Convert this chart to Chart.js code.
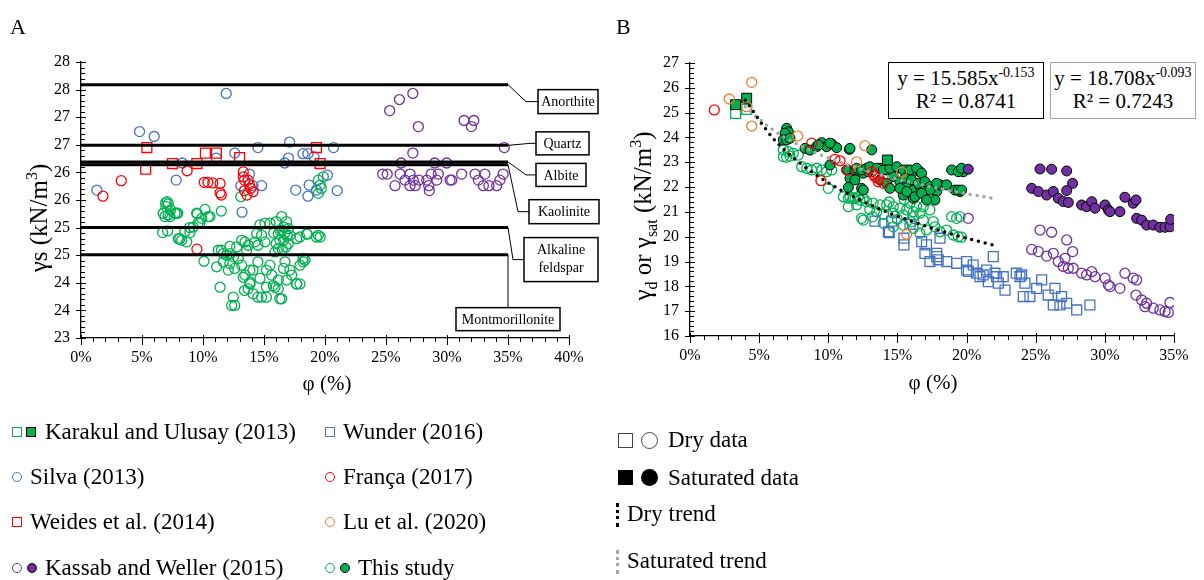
<!DOCTYPE html>
<html>
<head>
<meta charset="utf-8">
<script src="https://cdn.jsdelivr.net/npm/chart.js@4.4.0/dist/chart.umd.min.js"></script>
<style>
body{margin:0;background:#fff;width:1204px;height:580px;position:relative;overflow:hidden;font-family:'Liberation Serif','Times New Roman',serif;color:#000}
canvas{position:absolute;top:0}
.t{position:absolute;white-space:nowrap}
.lg{position:absolute;white-space:nowrap;font-size:23px;line-height:26px}
.rot{position:absolute;white-space:nowrap;font-size:25px;transform:translate(-50%,-50%) rotate(-90deg)}
.mk{position:absolute;box-sizing:border-box}
.eq{position:absolute;box-sizing:border-box;background:#fff;text-align:center;font-size:21px;line-height:23px;padding-top:4px}
.eq sup{font-size:14px;line-height:0}
</style>
</head>
<body>
<canvas id="chartA" width="610" height="400" style="left:0"></canvas>
<canvas id="chartB" width="604" height="400" style="left:600px"></canvas>

<div class="t" style="left:10px;top:14px;font-size:22px">A</div>
<div class="t" style="left:616px;top:14px;font-size:22px">B</div>
<div class="rot" style="left:38px;top:218px">γs (kN/m<sup style="font-size:16px">3</sup>)</div>
<div class="t" style="left:327px;top:383px;font-size:21px;transform:translate(-50%,-50%)">φ (%)</div>
<div class="rot" style="left:644px;top:216px">γ<sub style="font-size:16px">d</sub> or γ<sub style="font-size:16px">sat</sub> (kN/m<sup style="font-size:16px">3</sup>)</div>
<div class="t" style="left:933px;top:382px;font-size:21px;transform:translate(-50%,-50%)">φ (%)</div>

<div class="eq" style="left:888px;top:62px;width:156px;height:57px;border:1.5px solid #000">y = 15.585x<sup>-0.153</sup><br>R² = 0.8741</div>
<div class="eq" style="left:1050px;top:62px;width:146px;height:57px;border:1.5px solid #a6a6a6">y = 18.708x<sup>-0.093</sup><br>R² = 0.7243</div>

<!-- left legend -->
<span class="mk" style="left:12px;top:427px;width:10px;height:10px;border:1px solid #00b050"></span>
<span class="mk" style="left:26px;top:427px;width:10px;height:10px;border:1px solid #000;background:#00b050"></span>
<div class="lg" style="left:45px;top:419px">Karakul and Ulusay (2013)</div>
<span class="mk" style="left:12px;top:472px;width:10px;height:10px;border:1px solid #4472c4;border-radius:50%"></span>
<div class="lg" style="left:30px;top:464px">Silva (2013)</div>
<span class="mk" style="left:12px;top:517px;width:10px;height:10px;border:1px solid #ff0000"></span>
<div class="lg" style="left:30px;top:509px">Weides et al. (2014)</div>
<span class="mk" style="left:12px;top:563px;width:10px;height:10px;border:1px solid #7030a0;border-radius:50%"></span>
<span class="mk" style="left:27px;top:563px;width:10px;height:10px;border:1px solid #000;background:#7030a0;border-radius:50%"></span>
<div class="lg" style="left:45px;top:555px">Kassab and Weller (2015)</div>

<span class="mk" style="left:325px;top:427px;width:10px;height:10px;border:1px solid #4472c4"></span>
<div class="lg" style="left:343px;top:419px">Wunder (2016)</div>
<span class="mk" style="left:325px;top:472px;width:10px;height:10px;border:1px solid #ff0000;border-radius:50%"></span>
<div class="lg" style="left:343px;top:464px">França (2017)</div>
<span class="mk" style="left:325px;top:517px;width:10px;height:10px;border:1px solid #ed7d31;border-radius:50%"></span>
<div class="lg" style="left:343px;top:509px">Lu et al. (2020)</div>
<span class="mk" style="left:325px;top:563px;width:10px;height:10px;border:1px solid #00b050;border-radius:50%"></span>
<span class="mk" style="left:340px;top:563px;width:10px;height:10px;border:1px solid #000;background:#00b050;border-radius:50%"></span>
<div class="lg" style="left:358px;top:555px">This study</div>

<!-- right legend -->
<span class="mk" style="left:618px;top:433px;width:15px;height:15px;border:1px solid #444"></span>
<span class="mk" style="left:641px;top:432px;width:17px;height:17px;border:1px solid #444;border-radius:50%"></span>
<div class="lg" style="left:668px;top:427px">Dry data</div>
<span class="mk" style="left:618px;top:470px;width:15px;height:15px;background:#000"></span>
<span class="mk" style="left:641px;top:469px;width:17px;height:17px;background:#000;border-radius:50%"></span>
<div class="lg" style="left:668px;top:465px">Saturated data</div>
<span class="mk" style="left:616px;top:503px;width:3px;height:24px;border-left:3px dotted #000"></span>
<div class="lg" style="left:627px;top:501px">Dry trend</div>
<span class="mk" style="left:616px;top:550px;width:3px;height:24px;border-left:3px dotted #a6a6a6"></span>
<div class="lg" style="left:627px;top:548px">Saturated trend</div>

<script>
var serif = "'Liberation Serif', 'Times New Roman', serif"

// ---------- chart A data ----------
var xTicksA = ['0%','5%','10%','15%','20%','25%','30%','35%','40%']
var yTicksA = ['23','24','24','25','25','26','26','27','27','28','28']
var mineralNames = ['Anorthite','Quartz','Albite','Kaolinite','Alkaline feldspar','Montmorillonite']
var mineralValues = [27.59, 26.49, 26.19, 26.14, 25.0, 24.51]
var mineralEnd = 35

var silvaA = [[1.3,25.68],[4.8,26.74],[6.0,26.65],[7.8,25.86],[8.3,26.17],[11.1,26.26],[11.9,27.43],[12.6,26.35],[13.1,25.76],[13.2,25.28],[13.8,25.97],[14.1,25.76],[14.5,26.45],[14.8,25.76],[16.7,26.17],[17.0,26.26],[17.1,26.55],[17.6,25.68],[18.2,26.34],[18.6,26.34],[18.6,25.57],[18.7,25.77],[19.1,26.28],[19.3,25.68],[20.2,25.95],[20.7,26.45],[21.0,25.67]]
var weidesA = [[5.4,26.45],[5.3,26.06],[7.5,26.16],[9.5,26.16],[10.2,26.35],[11.1,26.35],[13.0,26.27],[19.3,26.45],[19.6,26.16]]
var francaA = [[1.8,25.57],[3.3,25.85],[8.7,26.03],[10.1,25.82],[10.4,25.82],[10.8,25.81],[11.4,25.8],[11.4,25.63],[11.5,25.59],[9.5,24.61],[13.3,26.01],[13.3,25.92],[13.4,25.86],[13.7,25.86],[13.9,25.71],[13.6,25.59],[13.4,25.67],[14.1,25.65],[13.8,25.78]]
var kassabA = [[25.3,27.12],[26.1,27.32],[27.2,27.43],[27.65,26.83],[31.4,26.94],[32.2,26.94],[32.0,26.83],[34.7,26.45],[27.2,26.35],[26.24,26.17],[28.99,26.17],[29.97,26.17],
  [24.73,25.97],[25.1,25.97],[26.15,25.97],[26.97,25.97],[28.7,25.97],[29.29,25.97],[31.2,25.97],[32.3,25.97],[33.1,25.97],[34.6,25.97],
  [26.56,25.86],[27.24,25.86],[27.7,25.86],[28.34,25.86],[29.16,25.86],[30.25,25.86],[30.39,25.86],[32.57,25.86],[34.34,25.86],
  [25.74,25.76],[26.97,25.76],[27.4,25.76],[28.5,25.76],[32.98,25.76],[33.44,25.76],[34.07,25.76],[28.55,25.67]]
var studyA = [[6.94,25.45],[7.15,25.43],[6.74,25.26],[7.35,25.32],[7.93,25.26],[6.69,24.91],[7.1,24.94],[7.97,24.8],[8.25,24.77],[8.66,24.74],[8.93,24.91],[9.2,25.01],[9.61,25.09],[9.48,25.26],[10.16,25.33],[10.57,25.2],[10.08,24.39],[11.5,25.3],[11.5,24.59],[12.2,24.53],[11.4,23.92],[12.48,23.74],[12.35,23.59],[12.6,23.59],[13.3,24.1],[13.4,23.86],[13.7,23.89],[14.1,23.8],[13.85,23.98],[14.5,23.74],[15.2,23.74],[15.9,23.92],[16.45,23.71],[16.85,24.05],[17.67,23.98],
  [7.07,25.47],[6.96,25.38],[7.15,25.23],[6.88,25.2],[7.3,25.2],[7.84,25.26],[9.89,25.17],[10.43,25.2],[9.74,25.08],[13.1,25.56],
  [9.53,25.25],[7.7,25.26],[8.9,25.0],[8.5,24.92],[8.1,24.8],[11.25,24.59],[12.2,24.66],[11.94,24.5],[12.5,24.47],[12.9,24.44],[13.44,24.74],[13.58,24.59],[11.12,24.29],[11.66,24.38],[12.2,24.35],[12.6,24.26],[12.07,24.23],[13.17,24.32],[13.44,24.14],[13.85,24.23],[13.85,24.01],[14.5,24.38],[14.1,24.23],[14.67,24.08],[14.8,23.74],[15.2,23.92],[15.2,24.23],[15.49,24.32],[15.63,24.14],[15.76,23.95],[16.17,23.89],[16.3,23.71],[16.17,24.05],[16.6,24.26],[16.72,24.38],[17.13,24.23],[17.27,24.14],[17.68,23.98],[17.95,24.32],[18.36,24.41],
  [14.67,25.05],[15.08,25.08],[15.49,25.08],[16.0,25.11],[16.45,25.2],[16.85,25.11],[17.0,24.98],[16.6,25.01],[16.17,24.89],[16.3,24.77],[16.6,24.77],[16.0,24.71],[16.17,24.62],[15.9,24.56],[14.4,24.89],[14.8,24.86],[15.08,24.74],[14.26,24.74],[13.17,24.77],[12.76,24.65],[13.71,24.68],[17.13,24.86],[17.68,24.8],[18.55,24.88],[19.3,24.83],[18.2,24.38],[11.66,24.53],[14.5,24.68],[17.0,24.71],
  [16.45,24.95],[16.7,24.9],[16.9,24.85],[16.3,24.95],[15.8,24.9],[16.5,24.6],[16.8,24.65],
  [19.45,25.86],[19.6,25.77],[19.7,25.71],[19.45,25.62],[19.86,25.92],[17.95,24.83],[18.5,24.89],[19.45,24.86],[19.6,24.83],[18.2,24.44],[17.95,23.98]]

// ---------- chart B data ----------
var xTicksB = ['0%','5%','10%','15%','20%','25%','30%','35%']
var karakulDryB = [[3.3,24.97],[4.1,25.13]]
var karakulSatB = [[3.3,25.32],[4.1,25.58],[14.27,23.09]]
var luB = [[4.46,26.22],[2.84,25.55],[4.46,24.46],[7.79,24.06],[12.65,23.67],[12.05,23.02],[15.3,22.6],[15.67,20.1],[4.1,25.24]]
var francaB = [[1.76,25.11],[8.8,23.77],[10.48,23.12],[10.85,23.06],[9.47,22.26],[11.45,22.69],[13.14,22.62],[13.38,22.42],[13.62,22.22],[13.98,22.15],[13.3,22.5],[13.6,22.35]]
var wunderB = [[13.38,20.63],[14.58,20.63],[14.41,20.16],[15.47,19.94],[15.47,19.67],[15.91,20.5],[16.75,19.8],[16.99,19.33],[17.35,19.0],[17.84,19.2],[18.56,19.0],[18.08,19.94],[19.28,18.93],[20.0,19.0],[20.0,18.66],[20.48,18.86],[20.73,18.53],[21.2,18.46],[21.93,19.2],[22.17,18.39],[23.6,18.53],[23.86,18.39],
  [14.34,20.2],[17.1,19.67],[17.84,19.33],[17.95,19.07],[20.13,18.6],[20.97,18.39],[21.45,18.66],[21.57,18.19],[22.05,18.53],[22.3,18.13],[22.65,18.39],[22.78,17.85],[23.98,18.46],[24.22,18.13],[24.1,17.59],[24.58,17.59],[25.07,17.92],[25.43,18.26],[25.9,17.65],[26.39,17.92],[26.27,17.25],[26.75,17.25],[26.87,17.59],[27.24,17.32],[27.96,17.05],[28.92,17.25]]
var kassabDryB = [[20.12,20.74],[25.31,20.27],[26.15,20.18],[27.24,19.87],[24.71,19.49],[25.19,19.4],[25.79,19.22],[26.27,19.33],[27.67,19.4],[26.63,19.0],[26.99,18.8],[27.36,18.73],[27.71,18.73],[27.12,19.13],[28.32,18.53],[28.68,18.46],[29.05,18.59],[29.29,18.39],[30.01,18.33],[30.37,17.99],[30.25,18.06],[31.09,17.92],[31.45,18.53],[32.05,18.33],[32.3,18.26],[32.25,17.65],[32.66,17.45],[33.02,17.32],[32.9,17.18],[33.5,17.12],[33.98,17.05],[34.35,16.99],[34.59,16.95],[34.71,17.35]]
var kassabSatB = [[20.12,22.72],[25.31,22.73],[26.15,22.72],[27.24,22.65],[24.71,21.95],[25.19,21.82],[25.79,21.68],[26.27,21.82],[27.67,22.15],[27.24,21.86],[26.63,21.55],[26.99,21.42],[27.36,21.38],[28.32,21.28],[28.68,21.21],[29.05,21.41],[29.29,21.15],[30.01,21.28],[30.25,21.08],[30.37,21.01],[31.09,21.01],[31.45,21.59],[32.05,21.35],[32.25,21.48],[32.3,20.74],[32.66,20.67],[33.02,20.47],[33.5,20.47],[33.98,20.38],[34.35,20.38],[34.71,20.4],[34.76,20.7]]
var studyDryB = [[6.75,23.5],[7.11,23.43],[7.47,23.36],[6.75,23.23],[6.99,23.2],[7.23,23.25],[7.83,23.29],[8.07,22.82],[8.44,22.76],[8.8,22.69],[9.16,22.76],[9.52,22.69],[9.88,22.62],[10.25,22.69],[10.0,21.95],[11.09,21.61],[11.45,21.55],[11.81,21.55],[12.17,21.61],[12.53,21.55],[11.45,21.21],[12.05,21.28],[12.41,20.74],[12.53,20.67],
  [11.57,21.61],[11.93,21.55],[12.29,21.48],[12.77,21.41],[13.25,21.35],[13.74,21.28],[14.22,21.28],[14.7,21.21],[15.18,21.15],[15.67,21.08],[16.15,21.01],[16.63,20.95],
  [13.98,20.54],[14.7,20.4],[15.42,20.47],[16.15,20.34],[16.63,20.14],[17.11,20.27],[17.71,20.4],[18.08,20.2],[18.56,20.27],
  [14.7,20.95],[15.42,20.88],[16.15,20.81],[16.87,20.67],[17.59,20.61],[18.92,20.81],[19.28,20.74],[19.52,20.81],[19.04,20.07],[19.4,20.0],[19.64,19.98],
  [15.91,21.35],[16.39,21.21],[16.87,21.21],[17.35,21.08],[13.0,21.1],[13.5,21.0],[14.0,20.9],[15.0,20.7],[16.0,20.6],[13.2,20.8],[14.4,21.4],[15.5,21.5]]
var studySatB = [[6.99,24.37],[7.11,24.23],[6.87,24.17],[6.75,23.9],[6.99,23.9],[7.23,23.97],[8.32,23.56],[8.68,23.49],[9.16,23.63],[9.52,23.79],[9.88,23.63],[10.25,23.74],[10.61,23.59],[11.52,23.52],[10.12,22.89],[11.33,22.69],[11.57,22.35],[11.93,22.69],[12.29,22.62],[12.53,22.56],[12.89,22.62],[12.41,21.95],[12.53,21.88],[9.28,23.7],[10.12,23.77],[13.14,23.5],
  [13.25,22.69],[13.74,22.76],[14.22,22.69],[14.95,22.76],[15.67,22.69],[16.15,22.62],[16.63,22.62],[13.74,22.29],[14.22,22.15],[14.7,22.42],[15.18,22.22],[15.67,22.08],[16.15,21.88],[16.63,22.02],[15.42,21.68],[16.15,21.55],
  [11.57,23.56],[12.05,22.76],[12.41,22.69],[12.77,22.76],[13.01,22.82],[13.5,22.76],[13.98,22.69],[14.46,22.76],[14.95,22.82],[15.42,22.69],[15.91,22.69],[16.39,22.76],[16.75,22.56],[15.55,22.36],[16.03,22.29],[16.51,22.15],[16.99,22.22],[17.35,22.02],[17.84,21.82],[18.08,22.09],[18.56,22.09],[19.16,21.88],[19.52,21.82],[14.46,21.95],[15.18,21.95],[15.67,21.82],[16.27,21.61],[16.87,21.82],[17.35,21.88],[11.93,22.29],[18.92,22.69],[19.52,22.69],[19.76,22.62],[19.4,21.88],[19.64,21.88],[19.4,22.62],[19.64,22.76],[17.84,22.15],[17.71,21.48],[16.75,21.75],[17.11,21.48],[11.45,21.99]]
// trend curves
var dryTrendB = [[4,25.5],[6,23.97],[8,22.94],[10,22.17],[12,21.56],[14,21.05],[16,20.63],[18,20.26],[20,19.94],[22,19.65]]
var satTrendB = [[4,25.24],[6,24.3],[8,23.66],[10,23.18],[12,22.79],[14,22.46],[16,22.19],[18,21.94],[20,21.73],[22,21.54]]

function pts(arr){ return arr.map(function(p){ return {x:p[0], y:p[1]} }) }

function openPts(label, arr, color, style, r){
  return {label:label, data:pts(arr), pointStyle:style, pointRadius:r, pointBorderWidth:1.3,
    pointBackgroundColor:'rgba(0,0,0,0)', pointBorderColor:color, showLine:false}
}
function fullPts(label, arr, color, style, r){
  return {label:label, data:pts(arr), pointStyle:style, pointRadius:r, pointBorderWidth:1,
    pointBackgroundColor:color, pointBorderColor:'#000', showLine:false}
}

// minor + major tick marks
var tickMarks = {
  id:'tickMarks',
  afterDraw: function(chart, args, o){
    var ctx = chart.ctx, xs = chart.scales.x, ys = chart.scales.y
    ctx.save()
    ctx.strokeStyle = '#000'
    ctx.lineWidth = 1
    var v, px, major
    for(v = xs.min; v <= xs.max + 1e-9; v += o.xMinor){
      px = Math.round(xs.getPixelForValue(v)) + 0.5
      major = Math.abs(v/o.xMajor - Math.round(v/o.xMajor)) < 1e-6
      ctx.beginPath()
      ctx.moveTo(px, ys.bottom - (major ? 3 : 0))
      ctx.lineTo(px, ys.bottom + (major ? 7 : 4))
      ctx.stroke()
    }
    for(v = ys.min; v <= ys.max + 1e-9; v += o.yMinor){
      px = Math.round(ys.getPixelForValue(v)) + 0.5
      major = Math.abs(v/o.yMajor - Math.round(v/o.yMajor)) < 1e-6
      ctx.beginPath()
      ctx.moveTo(xs.left - (major ? 5 : 0), px)
      ctx.lineTo(xs.left + (major ? 5 : 4), px)
      ctx.stroke()
    }
    ctx.restore()
  }
}

// callouts for the mineral lines (offsets in px from the line end)
var calloutLayout = [
  {dx:18, dy:17, bx:30, bw:60, bh:24},
  {dx:22, dy:-2, bx:28, bw:53, bh:23},
  {dx:18, dy:13, bx:28, bw:50, bh:23},
  {dx:10, dy:47, bx:21, bw:70, bh:24},
  {dx:5, dy:32, bx:16, bw:74, bh:44, wrap:true},
  {dx:0, dy:53, bx:-52, bw:104, bh:23, below:true}
]
var mineralBoxes = {
  id:'mineralBoxes',
  afterDraw: function(chart){
    var ctx = chart.ctx, xs = chart.scales.x, ys = chart.scales.y
    ctx.save()
    ctx.font = '14px ' + serif
    ctx.textAlign = 'center'
    ctx.textBaseline = 'middle'
    mineralNames.forEach(function(name, i){
      var c = calloutLayout[i]
      var x0 = xs.getPixelForValue(mineralEnd), y0 = ys.getPixelForValue(mineralValues[i])
      var ex = x0 + c.dx, ey = y0 + c.dy
      ctx.strokeStyle = '#000'
      ctx.lineWidth = 1
      ctx.beginPath()
      ctx.moveTo(x0, y0)
      ctx.lineTo(ex, ey)
      if(!c.below) ctx.lineTo(x0 + c.bx, ey)
      ctx.stroke()
      var bxl = x0 + c.bx
      var byt = c.below ? ey : ey - c.bh/2
      ctx.fillStyle = '#fff'
      ctx.fillRect(bxl, byt, c.bw, c.bh)
      ctx.lineWidth = 1.5
      ctx.strokeRect(bxl, byt, c.bw, c.bh)
      ctx.fillStyle = '#000'
      if(c.wrap){
        var parts = name.split(' ')
        ctx.fillText(parts[0], bxl + c.bw/2, byt + c.bh/2 - 9)
        ctx.fillText(parts[1], bxl + c.bw/2, byt + c.bh/2 + 9)
      } else {
        ctx.fillText(name, bxl + c.bw/2, byt + c.bh/2 + 1)
      }
    })
    ctx.restore()
  }
}

// ---------- chart A ----------
var dsA = []
mineralNames.forEach(function(n, i){
  dsA.push({label:n, data:[{x:0, y:mineralValues[i]}, {x:mineralEnd, y:mineralValues[i]}],
    showLine:true, borderColor:'#000', borderWidth:3, pointRadius:0})
})
dsA.push(openPts('Weides et al. (2014)', weidesA, '#ff0000', 'rect', 7))
dsA.push(openPts('França (2017)', francaA, '#ff0000', 'circle', 5))
dsA.push(openPts('Silva (2013)', silvaA, '#4472c4', 'circle', 5))
dsA.push(openPts('Kassab and Weller (2015)', kassabA, '#7030a0', 'circle', 5))
dsA.push(openPts('This study', studyA, '#00b050', 'circle', 5))

new Chart(document.getElementById('chartA'), {
  type:'scatter',
  data:{datasets:dsA},
  options:{
    responsive:false, animation:false, events:[],
    layout:{padding:{left:0, right:41, top:62, bottom:0}},
    plugins:{legend:{display:false}, tooltip:{enabled:false}, tickMarks:{xMinor:1, xMajor:5, yMinor:0.1, yMajor:0.5}},
    scales:{
      x:{min:0, max:40, grid:{display:false, drawTicks:false}, border:{display:true, color:'#000', width:1.3},
        afterFit:function(s){ s.height = 62 },
        ticks:{stepSize:5, padding:10, color:'#000', font:{family:serif, size:16}, maxRotation:0,
          callback:function(v, i){ return xTicksA[i] }}},
      y:{min:23, max:28, grid:{display:false, drawTicks:false}, border:{display:true, color:'#000', width:1.3},
        afterFit:function(s){ s.width = 81 },
        ticks:{stepSize:0.5, padding:11, color:'#000', font:{family:serif, size:16},
          callback:function(v, i){ return yTicksA[i] }}}
    }
  },
  plugins:[tickMarks, mineralBoxes]
})

// ---------- chart B ----------
var dsB = [
  {label:'Dry trend', data:pts(dryTrendB), showLine:true, borderColor:'#000', borderWidth:3.5, borderDash:[0,7], borderCapStyle:'round', pointRadius:0, cubicInterpolationMode:'monotone'},
  {label:'Saturated trend', data:pts(satTrendB), showLine:true, borderColor:'#a6a6a6', borderWidth:3.5, borderDash:[0,7], borderCapStyle:'round', pointRadius:0, cubicInterpolationMode:'monotone'},
  openPts('Lu et al. (2020)', luB, '#ed7d31', 'circle', 5),
  openPts('França (2017)', francaB, '#ff0000', 'circle', 5),
  fullPts('Karakul and Ulusay (2013) sat', karakulSatB, '#00b050', 'rect', 7),
  openPts('Karakul and Ulusay (2013)', karakulDryB, '#00b050', 'rect', 7),
  openPts('Wunder (2016)', wunderB, '#4472c4', 'rect', 7),
  fullPts('Kassab and Weller (2015) sat', kassabSatB, '#7030a0', 'circle', 5),
  openPts('Kassab and Weller (2015)', kassabDryB, '#7030a0', 'circle', 5),
  fullPts('This study sat', studySatB, '#00b050', 'circle', 5),
  openPts('This study', studyDryB, '#00b050', 'circle', 5)
]

new Chart(document.getElementById('chartB'), {
  type:'scatter',
  data:{datasets:dsB},
  options:{
    responsive:false, animation:false, events:[],
    layout:{padding:{left:0, right:30, top:63, bottom:0}},
    plugins:{legend:{display:false}, tooltip:{enabled:false}, tickMarks:{xMinor:1, xMajor:5, yMinor:0.2, yMajor:1}},
    scales:{
      x:{min:0, max:35, grid:{display:false, drawTicks:false}, border:{display:true, color:'#000', width:1.3},
        afterFit:function(s){ s.height = 64 },
        ticks:{stepSize:5, padding:10, color:'#000', font:{family:serif, size:16}, maxRotation:0,
          callback:function(v, i){ return xTicksB[i] }}},
      y:{min:16, max:27, grid:{display:false, drawTicks:false}, border:{display:true, color:'#000', width:1.3},
        afterFit:function(s){ s.width = 90 },
        ticks:{stepSize:1, padding:11, color:'#000', font:{family:serif, size:16}}}
    }
  },
  plugins:[tickMarks]
})
</script>
</body>
</html>
